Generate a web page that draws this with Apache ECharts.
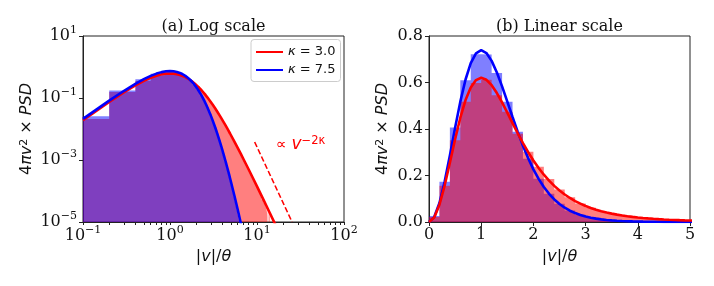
<!DOCTYPE html>
<html><head><meta charset="utf-8">
<script src="https://cdn.jsdelivr.net/npm/echarts@6/dist/echarts.min.js"></script>
<style>html,body{margin:0;padding:0;background:#fff}#c{width:714px;height:286px}</style>
</head><body><div id="c"></div>
<script>
// ---- data ----
const speed = [0,0.1,0.2,0.3,0.4,0.5,0.6,0.7,0.8,0.9,1.0,1.1,1.2,1.3,1.4,1.5,1.6,1.7,1.8,1.9,2.0,2.1,2.2,2.3,2.4,2.5,2.6,2.7,2.8,2.9,3.0,3.1,3.2,3.3,3.4,3.5,3.6,3.7,3.8,3.9,4.0,4.1,4.2,4.3,4.4,4.5,4.6,4.7,4.8,4.9,5.0,5.5,6,6.5,7,8,9,10,12,14,16,18];
const psdK3 = [0,0.01934,0.07437,0.15675,0.25479,0.35582,0.44850,0.52447,0.57887,0.61038,0.62025,0.61163,0.58842,0.55461,0.51424,0.47026,0.42536,0.38133,0.33935,0.30033,0.26456,0.23229,0.20342,0.17784,0.15531,0.13560,0.11829,0.10325,0.09016,0.07879,0.06892,0.06035,0.05291,0.04646,0.04084,0.03596,0.03172,0.02802,0.02479,0.02196,0.01949,0.01733,0.01543,0.01377,0.01230,0.01100,0.00986,0.00885,0.00796,0.00716,0.00646,0.00393,0.00247,0.00160,0.00106,0.000504,0.000258,0.000141,0.0000490,0.0000198,0.0000090,0.0000045];
const psdK75 = [0,0.02118,0.08188,0.17417,0.28638,0.40518,0.51758,0.61284,0.68336,0.72551,0.73909,0.72673,0.69307,0.64335,0.58339,0.51806,0.45177,0.38777,0.32801,0.27392,0.22642,0.18531,0.15041,0.12134,0.09715,0.07746,0.06148,0.04862,0.03833,0.03016,0.02368,0.01857,0.01455,0.01140,0.00893,0.00699,0.00548,0.00430,0.00337,0.00265,0.00208,0.00164,0.00129,0.00102,0.000810,0.000642,0.000510,0.000406,0.000324,0.000258,0.000207,0.0000701,0.0000250,0.0000094,0.0000037,0.00000065,0.00000013,0.00000003,0.0000000025,0.00000000027,0.00000000004,0.000000000007];

// histogram bin edges (left edges, then the last right edge)
const histEdges = [0,0.2,0.4,0.6,0.8,1.0,1.2,1.4,1.6,1.8,2.0,2.2,2.4,2.6,2.8,3.0,3.2,3.4,3.6,3.8,4.0,4.2,4.4,4.6,4.8,5.0,5.2,5.4,5.6,5.8,6.0,6.2,6.4,6.6,6.8,7.0,7.2,7.4,7.6,7.8,8.0,8.2,8.4,8.6,8.8,9.0,9.2,9.4,9.6,9.8,10.0,10.2,10.4,10.6,10.8,11.0,11.2,11.4,11.6,11.8,12.0,12.2,12.4,12.6,12.8,13.0,13.2,13.4,13.6,13.8,14.0,14.2,14.4,14.6,14.8,15.0,15.2,15.4,15.6,15.8];
const histK3 = [0.021,0.156,0.352,0.517,0.598,0.612,0.545,0.474,0.38,0.302,0.238,0.185,0.14,0.106,0.08,0.061,0.047,0.036,0.0285,0.022,0.0175,0.0138,0.0111,0.0088,0.0073,0.0058,0.0048,0.0039,0.0032,0.0027,0.0022,0.0019,0.0016,0.00135,0.00115,0.00097,0.00084,0.00072,0.00062,0.00054,0.00047,0.00041,0.00036,0.00031,0.00028,0.00024,0.00021,0.00019,0.00017,0.00015,0.000135,0.00012,0.00011,0.000095,0.00009,0.00007,0.000075,0.00005,0.00006,0.00004,0.000045,0.00005,0.00003,0.000035,0.00002,0.000035,0.000015,0,0.00003,0.000015,0.00002,0,0.000015,0.000015,0,0,0.000015,0,0];
const histK75 = [0.026,0.173,0.406,0.61,0.721,0.72,0.641,0.517,0.388,0.272,0.186,0.121,0.078,0.049,0.031,0.019,0.0116,0.0071,0.0044,0.0027,0.00168,0.00104,0.00066,0.00041,0.00026,0.000165,0.000105,0.000066,0.000042,0.000027,0.000017,0.000011,0.0000065];

// power-law guide  ∝ v^(-2κ)
const slopeV = [9.4, 25.3];
const slopePSD = [3.8e-3, 1.0e-5];

// tick labels
const logXTicks = [0.1, 1, 10, 100];
const logXMinor = [0.2,0.3,0.4,0.5,0.6,0.7,0.8,0.9,2,3,4,5,6,7,8,9,20,30,40,50,60,70,80,90];
const logYTicks = [1e-5, 1e-3, 1e-1, 1e1];
const legendNames = ['κ = 3.0', 'κ = 7.5'];

// ---- build ----
const RED = '#ff0000', BLUE = '#0000ff';
function stepData(vals, logMode) {
  const pts = vals.map((h, i) => [histEdges[i], h]);
  pts.push([histEdges[vals.length], vals[vals.length - 1]]);
  if (!logMode) return pts;
  return pts.map(p => [p[0] > 0 ? p[0] : 0.01, p[1] > 0 ? p[1] : 1e-9]);
}
function curveData(ys, logMode) {
  const out = [];
  speed.forEach((v, i) => {
    if (logMode && (v <= 0 || ys[i] <= 0)) return;
    out.push([v, ys[i]]);
  });
  return out;
}
const supRich = {
  b: {fontFamily: 'DejaVu Serif', fontSize: 16, lineHeight: 22, color: '#111'},
  s: {fontFamily: 'DejaVu Serif', fontSize: 11, lineHeight: 10, verticalAlign: 'top', color: '#111'}
};
function powLabel(val) {
  const e = Math.round(Math.log10(val));
  return '{b|10}{s|' + (e < 0 ? '\u2212' + (-e) : e) + '}';
}
const mathRich = {
  i: {fontFamily: 'DejaVu Sans', fontStyle: 'italic', fontSize: 16, color: '#111'},
  n: {fontFamily: 'DejaVu Sans', fontSize: 16, color: '#111'},
  s: {fontFamily: 'DejaVu Sans', fontSize: 11, lineHeight: 10, verticalAlign: 'top', color: '#111'}
};
const xName = '{n||}{i|v}{n||/}{i|θ}';
const yName = '{n|4}{i|πv}{s|2}{n| × }{i|PSD}';
const axisColor = '#222';

function histSeries(name, vals, color, xi, yi, logMode) {
  return {
    name: name, type: 'line', xAxisIndex: xi, yAxisIndex: yi, step: 'end',
    data: stepData(vals, logMode), symbol: 'none', silent: true,
    lineStyle: {width: 0, opacity: 0},
    areaStyle: {color: color, opacity: 0.5, origin: 'start'}, z: 1
  };
}
function curveSeries(name, ys, color, xi, yi, logMode, z) {
  return {
    name: name, type: 'line', xAxisIndex: xi, yAxisIndex: yi,
    data: curveData(ys, logMode), symbol: 'none', silent: true,
    lineStyle: {width: 2.6, color: color}, itemStyle: {color: color}, z: z
  };
}

const option = {
  animation: false,
  backgroundColor: '#fff',
  grid: [
    {left: 83, top: 36, width: 261, height: 186, show: true, borderColor: axisColor, borderWidth: 1, backgroundColor: 'transparent'},
    {left: 429, top: 36, width: 261, height: 186, show: true, borderColor: axisColor, borderWidth: 1, backgroundColor: 'transparent'}
  ],
  xAxis: [
    {type: 'log', gridIndex: 0, min: 0.1, max: 100, logBase: 10,
     axisLine: {show: true, onZero: false, lineStyle: {color: axisColor}},
     axisTick: {show: true, length: 3, lineStyle: {color: axisColor}, customValues: logXTicks.concat(logXMinor)},
     axisLabel: {customValues: logXTicks, formatter: powLabel, rich: supRich, margin: 3},
     splitLine: {show: false},
     name: xName, nameLocation: 'middle', nameGap: 27, nameTextStyle: {rich: mathRich}},
    {type: 'value', gridIndex: 1, min: 0, max: 5, interval: 1,
     axisLine: {show: true, onZero: false, lineStyle: {color: axisColor}},
     axisTick: {show: true, length: 4, lineStyle: {color: axisColor}},
     axisLabel: {fontFamily: 'DejaVu Serif', fontSize: 16, color: '#111', lineHeight: 18, margin: 4},
     splitLine: {show: false},
     name: xName, nameLocation: 'middle', nameGap: 27, nameTextStyle: {rich: mathRich}}
  ],
  yAxis: [
    {type: 'log', gridIndex: 0, min: 1e-5, max: 10, logBase: 10,
     axisLine: {show: true, onZero: false, lineStyle: {color: axisColor}},
     axisTick: {show: true, length: 4, lineStyle: {color: axisColor}, customValues: logYTicks},
     axisLabel: {customValues: logYTicks, formatter: powLabel, rich: supRich, margin: 6},
     splitLine: {show: false},
     name: yName, nameLocation: 'middle', nameRotate: 90, nameGap: 48, nameTextStyle: {rich: mathRich}},
    {type: 'value', gridIndex: 1, min: 0, max: 0.8, interval: 0.2,
     axisLine: {show: true, onZero: false, lineStyle: {color: axisColor}},
     axisTick: {show: true, length: 4, lineStyle: {color: axisColor}},
     axisLabel: {fontFamily: 'DejaVu Serif', fontSize: 16, color: '#111', margin: 6, formatter: v => v.toFixed(1)},
     splitLine: {show: false},
     name: yName, nameLocation: 'middle', nameRotate: 90, nameGap: 38, nameTextStyle: {rich: mathRich}}
  ],
  legend: {
    data: legendNames, orient: 'vertical', left: 251, top: 39.5,
    padding: [6, 5, 5, 4], itemGap: 5, itemWidth: 27, itemHeight: 13,
    backgroundColor: 'rgba(255,255,255,0.85)', borderColor: '#ccc', borderWidth: 1, borderRadius: 3,
    selectedMode: false,
    itemStyle: {opacity: 0},
    formatter: name => '{i|κ}{n|' + name.slice(1) + '}',
    textStyle: {rich: {
      i: {fontFamily: 'DejaVu Sans', fontStyle: 'italic', fontSize: 13, color: '#111'},
      n: {fontFamily: 'DejaVu Sans', fontSize: 13, color: '#111'}
    }}
  },
  graphic: [
    {type: 'text', style: {text: '(a) Log scale', x: 213.5, y: 27, align: 'center', verticalAlign: 'middle', font: '16px "DejaVu Serif"', fill: '#111'}},
    {type: 'text', style: {text: '(b) Linear scale', x: 559.5, y: 27, align: 'center', verticalAlign: 'middle', font: '16px "DejaVu Serif"', fill: '#111'}},
    {type: 'text', x: 276, y: 135, style: {
      text: '{n|∝ }{i|v}{s|\u22122κ}', fill: RED,
      rich: {
        n: {fontFamily: 'DejaVu Sans', fontSize: 15, lineHeight: 20, fill: RED},
        i: {fontFamily: 'DejaVu Sans', fontStyle: 'italic', fontSize: 17, lineHeight: 20, fill: RED},
        s: {fontFamily: 'DejaVu Sans', fontSize: 11.5, lineHeight: 10, verticalAlign: 'top', fill: RED}
      }}}
  ],
  series: [
    histSeries('histK3L', histK3, RED, 0, 0, true),
    histSeries('histK75L', histK75, BLUE, 0, 0, true),
    curveSeries(legendNames[0], psdK3, RED, 0, 0, true, 3),
    curveSeries(legendNames[1], psdK75, BLUE, 0, 0, true, 4),
    {name: 'slope', type: 'line', xAxisIndex: 0, yAxisIndex: 0, symbol: 'none', silent: true,
     data: slopeV.map((v, i) => [v, slopePSD[i]]),
     lineStyle: {color: RED, width: 1.6, type: [5.5, 2.5]}, z: 3},
    histSeries('histK75R', histK75, BLUE, 1, 1, false),
    histSeries('histK3R', histK3, RED, 1, 1, false),
    curveSeries(legendNames[1], psdK75, BLUE, 1, 1, false, 3),
    curveSeries(legendNames[0], psdK3, RED, 1, 1, false, 4)
  ]
};
const chart = echarts.init(document.getElementById('c'), null, {renderer: 'canvas'});
chart.setOption(option);
</script></body></html>
